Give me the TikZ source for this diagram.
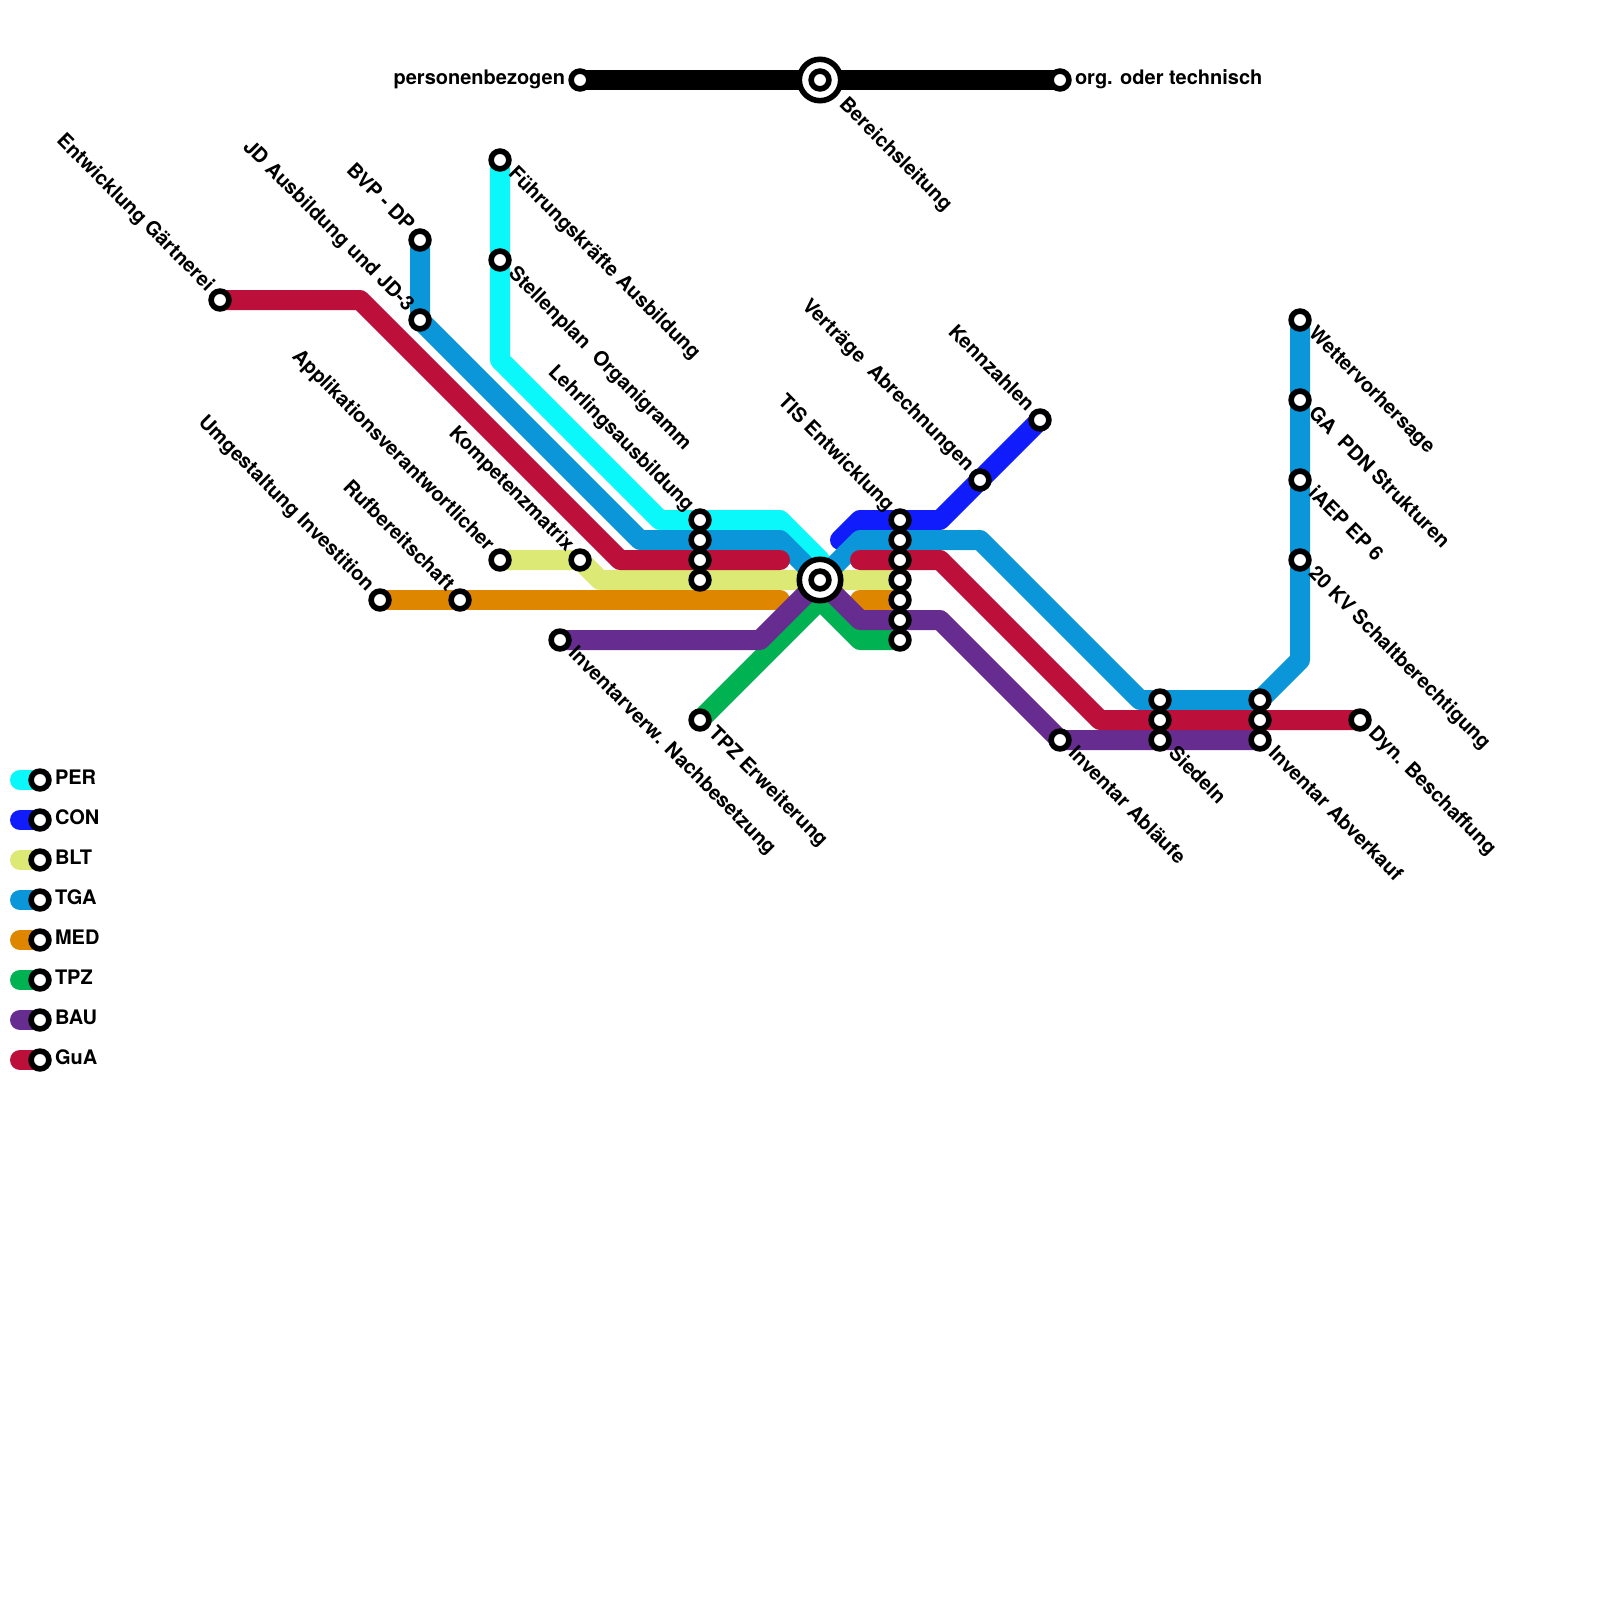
\documentclass[tikz,border=0pt]{standalone}
\usepackage{fontspec}
\setmainfont{TeX Gyre Heros}
\definecolor{cPER}{HTML}{0AF8FA}
\definecolor{cCON}{HTML}{101CFC}
\definecolor{cBLT}{HTML}{DDE975}
\definecolor{cTGA}{HTML}{0A96D8}
\definecolor{cMED}{HTML}{DF8600}
\definecolor{cTPZ}{HTML}{00B251}
\definecolor{cBAU}{HTML}{662C90}
\definecolor{cGuA}{HTML}{BC0F3A}
\tikzset{
  metro/.style={line width=10pt,line cap=round,line join=round},
  stat/.style={circle,draw=black,fill=white,line width=2.8pt,minimum size=8.9pt,inner sep=0pt,outer sep=0pt},
  hub/.style={circle,draw=black,fill=white,line width=2.8pt,minimum size=20.7pt,inner sep=0pt,outer sep=0pt},
  lbl/.style={font=\bfseries\fontsize{10}{11}\selectfont,inner sep=0pt,outer sep=0pt},
  dr/.style={lbl,rotate=-45,anchor=mid west},
  ul/.style={lbl,rotate=-45,anchor=mid east},
}
\begin{document}
\begin{tikzpicture}[x=0.5pt,y=-0.5pt]
\useasboundingbox (0,0) rectangle (1600,1600);
% vertices
\coordinate (hubA) at (820,80);
\coordinate (hubB) at (820,580);
\coordinate (pers) at (580,80);
\coordinate (orgt) at (1060,80);
\coordinate (fuehr) at (500,160);
\coordinate (stell) at (500,260);
\coordinate (pa) at (500,360);
\coordinate (pb) at (660,520);
\coordinate (lehr) at (700,520);
\coordinate (pc) at (780,520);
\coordinate (pd) at (820,560);
\coordinate (conA) at (840,540);
\coordinate (conB) at (860,520);
\coordinate (tis) at (900,520);
\coordinate (conC) at (940,520);
\coordinate (vert) at (980,480);
\coordinate (kenn) at (1040,420);
\coordinate (appl) at (500,560);
\coordinate (komp) at (580,560);
\coordinate (bltA) at (600,580);
\coordinate (blL) at (700,580);
\coordinate (blR) at (900,580);
\coordinate (bvp) at (420,240);
\coordinate (jd) at (420,320);
\coordinate (tgA) at (640,540);
\coordinate (tgL) at (700,540);
\coordinate (tgB) at (780,540);
\coordinate (tgC) at (860,540);
\coordinate (tgR) at (900,540);
\coordinate (tgD) at (980,540);
\coordinate (tgE) at (1140,700);
\coordinate (tgS) at (1160,700);
\coordinate (tgI) at (1260,700);
\coordinate (tgF) at (1300,660);
\coordinate (kv) at (1300,560);
\coordinate (iaep) at (1300,480);
\coordinate (gapdn) at (1300,400);
\coordinate (wett) at (1300,320);
\coordinate (umge) at (380,600);
\coordinate (rufb) at (460,600);
\coordinate (mdA) at (780,600);
\coordinate (mdB) at (860,600);
\coordinate (mdR) at (900,600);
\coordinate (tpze) at (700,720);
\coordinate (tzA) at (820,600);
\coordinate (tzB) at (860,640);
\coordinate (tzR) at (900,640);
\coordinate (nach) at (560,640);
\coordinate (buA) at (760,640);
\coordinate (buB) at (860,620);
\coordinate (buR) at (900,620);
\coordinate (buC) at (940,620);
\coordinate (abla) at (1060,740);
\coordinate (sied) at (1160,740);
\coordinate (abve) at (1260,740);
\coordinate (gart) at (220,300);
\coordinate (guA) at (360,300);
\coordinate (guB) at (620,560);
\coordinate (guL) at (700,560);
\coordinate (guC) at (780,560);
\coordinate (guD) at (860,560);
\coordinate (guR) at (900,560);
\coordinate (guE) at (940,560);
\coordinate (guF) at (1100,720);
\coordinate (guS) at (1160,720);
\coordinate (guI) at (1260,720);
\coordinate (dyn) at (1360,720);
% legend vertices
\foreach \n/\y in {PER/780,CON/820,BLT/860,TGA/900,MED/940,TPZ/980,BAU/1020,GuA/1060}{
  \coordinate (a\n) at (20,\y);
  \coordinate (b\n) at (40,\y);
}
% lines
\draw[metro,black] (pers) -- (hubA) -- (orgt);
\draw[metro,cPER] (fuehr) -- (stell) -- (pa) -- (pb) -- (lehr) -- (pc) -- (pd);
\draw[metro,cCON] (conA) -- (conB) -- (tis) -- (conC) -- (vert) -- (kenn);
\draw[metro,cBLT] (appl) -- (komp) -- (bltA) -- (blL) -- (hubB) -- (blR);
\draw[metro,cTGA] (bvp) -- (jd) -- (tgA) -- (tgL) -- (tgB) -- (hubB) -- (tgC) -- (tgR) -- (tgD) -- (tgE) -- (tgS) -- (tgI) -- (tgF) -- (kv) -- (iaep) -- (gapdn) -- (wett);
\draw[metro,cMED] (umge) -- (rufb) -- (mdA);
\draw[metro,cMED] (mdB) -- (mdR);
\draw[metro,cTPZ] (tpze) -- (tzA) -- (tzB) -- (tzR);
\draw[metro,cBAU] (nach) -- (buA) -- (hubB) -- (buB) -- (buR) -- (buC) -- (abla) -- (sied) -- (abve);
\draw[metro,cGuA] (gart) -- (guA) -- (guB) -- (guL) -- (guC);
\draw[metro,cGuA] (guD) -- (guR) -- (guE) -- (guF) -- (guS) -- (guI) -- (dyn);
\foreach \n in {PER,CON,BLT,TGA,MED,TPZ,BAU,GuA}{
  \draw[metro,c\n] (a\n) -- (b\n);
}
% interchanges
\node[hub] (shubA) at (hubA) {};
\node[hub] (shubB) at (hubB) {};
% stations
\foreach \s in {hubA,hubB,pers,orgt,fuehr,stell,lehr,tis,vert,kenn,appl,komp,blL,blR,bvp,jd,tgL,tgR,tgS,tgI,kv,iaep,gapdn,wett,umge,rufb,mdR,tpze,tzR,nach,buR,abla,sied,abve,gart,guL,guR,guS,guI,dyn}{
  \node[stat] (st\s) at (\s) {};
}
\foreach \n in {PER,CON,BLT,TGA,MED,TPZ,BAU,GuA}{
  \node[stat] (st\n) at (b\n) {};
  \node[lbl,anchor=mid west] (lb\n) at ([xshift=7.5pt,yshift=0.2pt]b\n) {\n};
}
% labels
\node[lbl,anchor=mid east] (lpers) at ([xshift=-7.5pt,yshift=0.2pt]pers) {personenbezogen};
\node[lbl,anchor=mid west] (lorgt) at ([xshift=7.5pt,yshift=0.2pt]orgt) {org. oder technisch};
\node[dr] (ldhub) at ([xshift=11pt,yshift=-11pt]hubA) {Bereichsleitung};
\foreach \a/\b/\c in {
 b/fuehr/Führungskräfte Ausbildung,
 c/stell/Stellenplan\ \ Organigramm,
 d/nach/Inventarverw. Nachbesetzung,
 e/tpze/TPZ Erweiterung,
 f/abla/Inventar Abläufe,
 g/sied/Siedeln,
 h/abve/Inventar Abverkauf,
 i/dyn/Dyn. Beschaffung,
 j/wett/Wettervorhersage,
 k/gapdn/GA\ \ PDN Strukturen,
 l/iaep/iAEP EP 6,
 m/kv/20 KV Schaltberechtigung}{
 \node[dr] (ld\a) at ([xshift=5.6pt,yshift=-5.5pt]\b) {\c};
}
\foreach \a/\b/\c in {
 a/gart/Entwicklung Gärtnerei,
 b/jd/JD Ausbildung und JD-3,
 c/bvp/BVP - DP,
 d/appl/Applikationsverantwortlicher,
 e/komp/Kompetenzmatrix,
 f/lehr/Lehrlingsausbildung,
 g/umge/Umgestaltung Investition,
 h/rufb/Rufbereitschaft,
 i/tis/TIS Entwicklung,
 j/vert/Verträge\ \ Abrechnungen,
 k/kenn/Kennzahlen}{
 \node[ul] (lu\a) at ([xshift=-5pt,yshift=5.8pt]\b) {\c};
}
\end{tikzpicture}
\end{document}
